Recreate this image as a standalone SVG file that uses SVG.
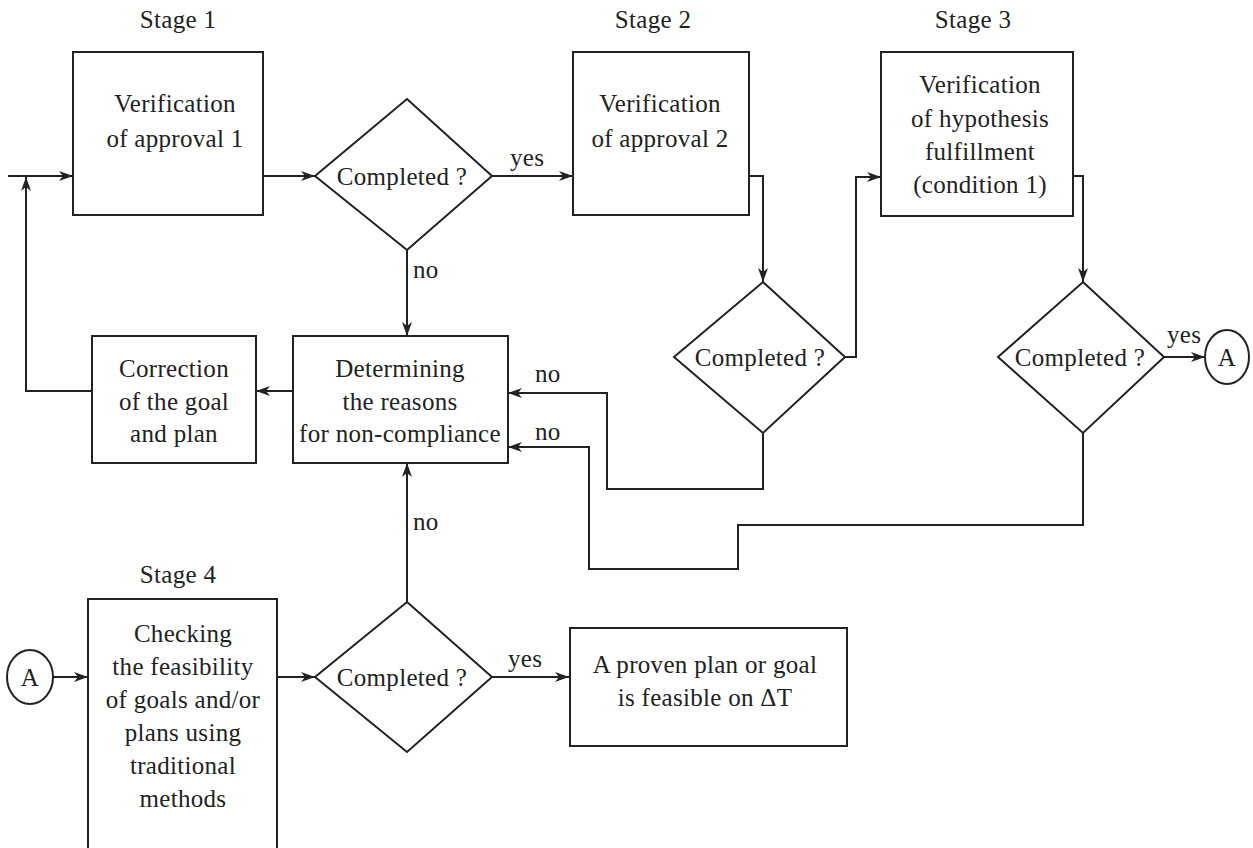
<svg xmlns="http://www.w3.org/2000/svg" width="1253" height="848" viewBox="0 0 1253 848">
<style>
.b{fill:#fff;stroke:#222;stroke-width:2}
.c{fill:none;stroke:#222;stroke-width:2}
text{font-family:'Liberation Serif','Times New Roman',serif;font-size:25px;letter-spacing:0.3px;fill:#222;text-anchor:middle}
.l{text-anchor:start}
</style>
<defs>
<marker id="ah" viewBox="0 0 14 10" refX="14" refY="5" markerWidth="14" markerHeight="10" markerUnits="userSpaceOnUse" orient="auto">
<path d="M0,0 L14,5 L0,10 L4,5 z" fill="#222"/>
</marker>
</defs>
<rect width="1253" height="848" fill="#fff"/>
<g id="labels">
<text x="178" y="28">Stage 1</text>
<text x="653" y="28">Stage 2</text>
<text x="973" y="28">Stage 3</text>
<text x="178" y="583">Stage 4</text>
</g>
<g id="connectors">
<path class="c" d="M8,176 L73,176" marker-end="url(#ah)"/>
<path class="c" d="M263,176 L315,176" marker-end="url(#ah)"/>
<path class="c" d="M492,176 L573,176" marker-end="url(#ah)"/>
<path class="c" d="M749,176 L763,176 L763,282" marker-end="url(#ah)"/>
<path class="c" d="M845,357 L856,357 L856,177 L881,177" marker-end="url(#ah)"/>
<path class="c" d="M1073,176 L1083,176 L1083,282" marker-end="url(#ah)"/>
<path class="c" d="M1164,357 L1205,357" marker-end="url(#ah)"/>
<path class="c" d="M407,250 L407,336" marker-end="url(#ah)"/>
<path class="c" d="M763,433 L763,489 L607,489 L607,393 L508,393" marker-end="url(#ah)"/>
<path class="c" d="M1083,433 L1083,525 L738,525 L738,569 L589,569 L589,447 L508,447" marker-end="url(#ah)"/>
<path class="c" d="M293,391 L256,391" marker-end="url(#ah)"/>
<path class="c" d="M92,391 L26,391 L26,177" marker-end="url(#ah)"/>
<path class="c" d="M407,602 L407,463" marker-end="url(#ah)"/>
<path class="c" d="M53,677 L88,677" marker-end="url(#ah)"/>
<path class="c" d="M277,677 L315,677" marker-end="url(#ah)"/>
<path class="c" d="M492,677 L569,677" marker-end="url(#ah)"/>
<text class="l" x="510" y="166">yes</text>
<text class="l" x="413" y="278">no</text>
<text class="l" x="535" y="382">no</text>
<text class="l" x="535" y="440">no</text>
<text class="l" x="1167" y="343">yes</text>
<text class="l" x="413" y="530">no</text>
<text class="l" x="508" y="667">yes</text>
</g>
<g id="box1">
<rect class="b" x="73" y="52" width="190" height="163"/>
<text x="175" y="112">Verification</text>
<text x="175" y="147">of approval 1</text>
</g>
<g id="dec1">
<polygon class="b" points="407,99 492,176 407,250 315,176"/>
<text x="402" y="185">Completed ?</text>
</g>
<g id="box2">
<rect class="b" x="573" y="52" width="176" height="163"/>
<text x="660" y="112">Verification</text>
<text x="660" y="147">of approval 2</text>
</g>
<g id="dec2">
<polygon class="b" points="763,282 845,357 763,433 674,357"/>
<text x="760" y="366">Completed ?</text>
</g>
<g id="box3">
<rect class="b" x="881" y="52" width="192" height="164"/>
<text x="980" y="93">Verification</text>
<text x="980" y="127">of hypothesis</text>
<text x="980" y="160">fulfillment</text>
<text x="980" y="193">(condition 1)</text>
</g>
<g id="dec3">
<polygon class="b" points="1083,282 1164,357 1083,433 998,357"/>
<text x="1080" y="366">Completed ?</text>
</g>
<g id="connA1">
<ellipse class="b" cx="1227" cy="357" rx="22" ry="27"/>
<text x="1227" y="366">A</text>
</g>
<g id="determine">
<rect class="b" x="293" y="336" width="215" height="127"/>
<text x="400" y="377">Determining</text>
<text x="400" y="410">the reasons</text>
<text x="400" y="442">for non-compliance</text>
</g>
<g id="correction">
<rect class="b" x="92" y="336" width="164" height="127"/>
<text x="174" y="377">Correction</text>
<text x="174" y="410">of the goal</text>
<text x="174" y="442">and plan</text>
</g>
<g id="connA2">
<ellipse class="b" cx="30" cy="677" rx="23" ry="27"/>
<text x="30" y="686">A</text>
</g>
<g id="box4">
<rect class="b" x="88" y="599" width="189" height="270"/>
<text x="183" y="642">Checking</text>
<text x="183" y="675">the feasibility</text>
<text x="183" y="708">of goals and/or</text>
<text x="183" y="741">plans using</text>
<text x="183" y="774">traditional</text>
<text x="183" y="807">methods</text>
</g>
<g id="dec4">
<polygon class="b" points="407,602 492,677 407,752 315,677"/>
<text x="402" y="686">Completed ?</text>
</g>
<g id="result">
<rect class="b" x="570" y="628" width="277" height="118"/>
<text x="705" y="673">A proven plan or goal</text>
<text x="705" y="706">is feasible on ΔT</text>
</g>
</svg>
